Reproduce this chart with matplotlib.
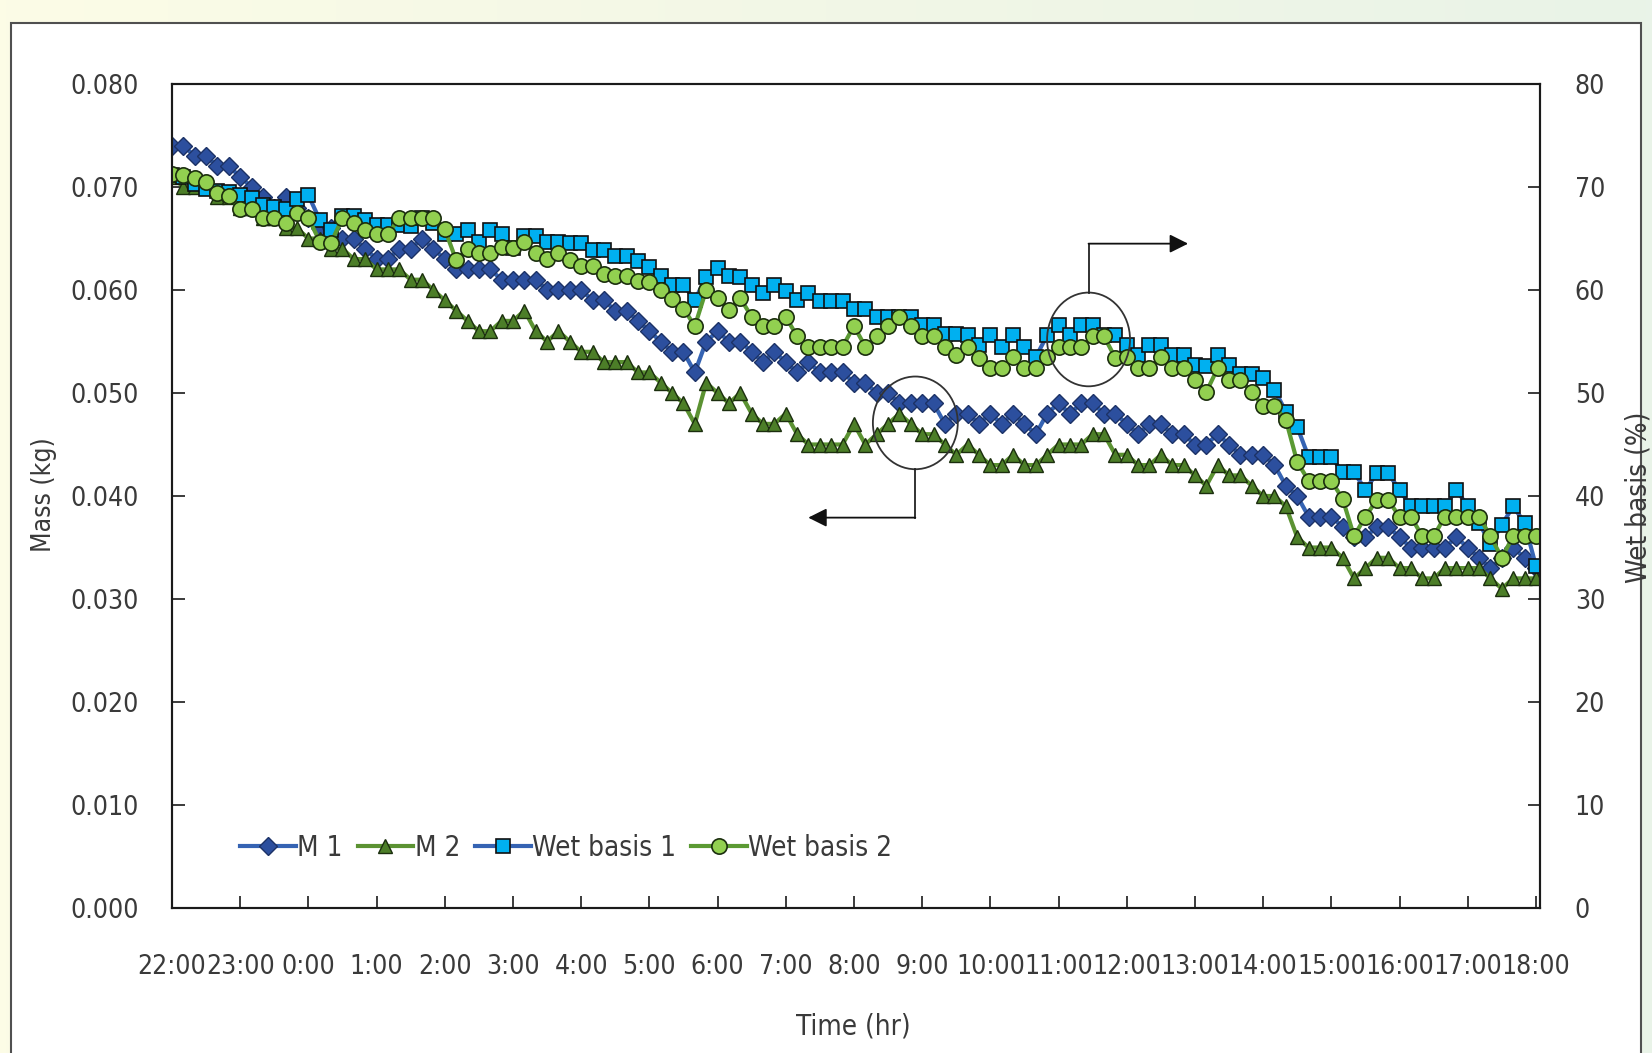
import numpy as np
import matplotlib
matplotlib.use("Agg")
import matplotlib.pyplot as plt
from matplotlib import font_manager
from matplotlib.patches import Ellipse, Rectangle
from matplotlib.colors import LinearSegmentedColormap


hour_labels = ["22:00", "23:00", "0:00", "1:00", "2:00", "3:00", "4:00", "5:00",
               "6:00", "7:00", "8:00", "9:00", "10:00", "11:00", "12:00", "13:00",
               "14:00", "15:00", "16:00", "17:00", "18:00"]

# one reading every 10 minutes from 22:00 to 18:00
elapsed_min = np.arange(0, 1201, 10)

# mass readings in grams
m1_g = [74, 74, 73, 73, 72, 72, 71, 70, 69, 68, 69, 68, 67, 66, 66, 65, 65, 64, 63, 63,
        64, 64, 65, 64, 63, 62, 62, 62, 62, 61, 61, 61, 61, 60, 60, 60, 60, 59, 59, 58,
        58, 57, 56, 55, 54, 54, 52, 55, 56, 55, 55, 54, 53, 54, 53, 52, 53, 52, 52, 52,
        51, 51, 50, 50, 49, 49, 49, 49, 47, 48, 48, 47, 48, 47, 48, 47, 46, 48, 49, 48,
        49, 49, 48, 48, 47, 46, 47, 47, 46, 46, 45, 45, 46, 45, 44, 44, 44, 43, 41, 40,
        38, 38, 38, 37, 36, 36, 37, 37, 36, 35, 35, 35, 35, 36, 35, 34, 33, 34, 35, 34,
        33]
m2_g = [71, 70, 70, 70, 69, 69, 68, 68, 67, 67, 66, 66, 65, 65, 64, 64, 63, 63, 62, 62,
        62, 61, 61, 60, 59, 58, 57, 56, 56, 57, 57, 58, 56, 55, 56, 55, 54, 54, 53, 53,
        53, 52, 52, 51, 50, 49, 47, 51, 50, 49, 50, 48, 47, 47, 48, 46, 45, 45, 45, 45,
        47, 45, 46, 47, 48, 47, 46, 46, 45, 44, 45, 44, 43, 43, 44, 43, 43, 44, 45, 45,
        45, 46, 46, 44, 44, 43, 43, 44, 43, 43, 42, 41, 43, 42, 42, 41, 40, 40, 39, 36,
        35, 35, 35, 34, 32, 33, 34, 34, 33, 33, 32, 32, 33, 33, 33, 33, 32, 31, 32, 32,
        32]
# wet basis moisture (%)
wb1 = [71.2, 71.0, 70.3, 69.8, 69.6, 69.5, 69.2, 68.9, 68.3, 68.1, 67.9, 68.8, 69.2, 66.8,
       65.8, 67.2, 67.2, 66.8, 66.3, 66.3, 66.3, 66.2, 67.0, 66.5, 65.4, 65.4, 65.8, 64.7,
       65.8, 65.4, 64.1, 65.2, 65.2, 64.7, 64.7, 64.6, 64.6, 63.9, 63.9, 63.3, 63.3, 62.8,
       62.2, 61.4, 60.5, 60.5, 59.0, 61.3, 62.1, 61.4, 61.3, 60.5, 59.7, 60.5, 59.9, 59.0,
       59.7, 58.9, 58.9, 58.9, 58.2, 58.2, 57.4, 57.4, 57.4, 57.4, 56.6, 56.6, 55.7, 55.7,
       55.6, 54.7, 55.6, 54.5, 55.6, 54.5, 53.5, 55.6, 56.6, 55.6, 56.6, 56.6, 55.6, 55.6,
       54.7, 53.7, 54.7, 54.7, 53.7, 53.7, 52.7, 52.6, 53.7, 52.7, 51.8, 51.8, 51.5, 50.3,
       48.2, 46.7, 43.8, 43.8, 43.8, 42.3, 42.3, 40.6, 42.2, 42.2, 40.6, 39.0, 39.0, 39.0,
       39.0, 40.6, 39.0, 37.4, 35.3, 37.2, 39.0, 37.4, 33.2]
wb2 = [71.3, 71.2, 70.9, 70.5, 69.4, 69.1, 67.9, 67.9, 67.0, 67.0, 66.5, 67.5, 67.0, 64.7,
       64.6, 67.0, 66.5, 65.8, 65.4, 65.4, 67.0, 67.0, 67.0, 67.0, 65.9, 62.9, 64.0, 63.6,
       63.6, 64.2, 64.1, 64.7, 63.6, 63.0, 63.6, 62.9, 62.3, 62.3, 61.6, 61.4, 61.4, 60.9,
       60.8, 60.0, 59.1, 58.2, 56.5, 60.0, 59.2, 58.1, 59.2, 57.4, 56.5, 56.5, 57.4, 55.5,
       54.5, 54.5, 54.5, 54.5, 56.5, 54.5, 55.5, 56.5, 57.4, 56.5, 55.5, 55.5, 54.5, 53.7,
       54.5, 53.4, 52.4, 52.4, 53.5, 52.4, 52.4, 53.5, 54.5, 54.5, 54.5, 55.5, 55.5, 53.4,
       53.5, 52.4, 52.4, 53.5, 52.4, 52.4, 51.3, 50.1, 52.4, 51.3, 51.3, 50.1, 48.7, 48.7,
       47.4, 43.3, 41.5, 41.5, 41.5, 39.7, 36.1, 38.0, 39.6, 39.6, 38.0, 38.0, 36.1, 36.1,
       38.0, 38.0, 38.0, 38.0, 36.1, 34.0, 36.1, 36.1, 36.1]

hours = elapsed_min / 60
m1 = np.array(m1_g) / 1000
m2 = np.array(m2_g) / 1000

available = {f.name for f in font_manager.fontManager.ttflist}
if "Liberation Sans Narrow" in available:
    plt.rcParams["font.family"] = "Liberation Sans Narrow"
    FS = 23.5
else:
    plt.rcParams["font.family"] = "DejaVu Sans"
    plt.rcParams["font.stretch"] = "condensed"
    FS = 19
TXT = "#3a3a3a"

W, H = 1652, 1053
fig = plt.figure(figsize=(W / 100, H / 100), dpi=100)

# page background + white chart box
bg = fig.add_axes([0, 0, 1, 1], zorder=-10)
bg.axis("off")
cm = LinearSegmentedColormap.from_list("bgc", ["#fcfce6", "#f2f7e6", "#e9f3e8"])
bg.imshow(np.linspace(0, 1, 256)[None, :], aspect="auto", cmap=cm,
          extent=[0, 1, 0, 1], transform=bg.transAxes)
bg.add_patch(Rectangle((11 / W, -0.01), (1641 - 11) / W, 1.01 - 23 / H,
                       transform=bg.transAxes, fc="white", ec="#505050", lw=1.5))
bg.set_xlim(0, 1)
bg.set_ylim(0, 1)

ax = fig.add_axes([172 / W, 1 - 908 / H, (1540 - 172) / W, (908 - 84) / H])
ax.plot(hours, m1, color="#3563b3", lw=3, marker="D", ms=9.5, mfc="#2c4f9e",
        mec="#1c3266", mew=1, label="M 1")
ax.plot(hours, m2, color="#5b9232", lw=3, marker="^", ms=10.5, mfc="#4c7e28",
        mec="#1b2e0e", mew=1, label="M 2")

ax2 = ax.twinx()
ax2.plot(hours, wb1, color="#3563b3", lw=3, marker="s", ms=10.5, mfc="#00b0f0",
         mec="#111111", mew=1.2, label="Wet basis 1")
ax2.plot(hours, wb2, color="#5b9a33", lw=3, marker="o", ms=11, mfc="#92d050",
         mec="#1b2e0e", mew=1.2, label="Wet basis 2")

ax.set_xlim(0, 20.06)
ax.set_ylim(0, 0.08)
ax2.set_ylim(0, 80)
ax.set_xticks(range(len(hour_labels)))
ax.set_xticklabels(hour_labels)
ax.set_yticks(np.arange(0, 0.0801, 0.01))
ax.set_yticklabels([f"{v:.3f}" for v in np.arange(0, 0.0801, 0.01)])
ax2.set_yticks(range(0, 81, 10))

for a in (ax, ax2):
    for s in a.spines.values():
        s.set_color("#1a1a1a")
        s.set_linewidth(1.5)
ax.tick_params(axis="x", direction="in", length=9, width=1.2, pad=33,
               labelsize=FS, labelcolor=TXT, color="#1a1a1a")
ax.tick_params(axis="y", direction="in", length=9, width=1.2, pad=24,
               labelsize=FS, labelcolor=TXT, color="#1a1a1a")
ax2.tick_params(axis="y", direction="in", length=9, width=1.2, pad=25,
                labelsize=FS, labelcolor=TXT, color="#1a1a1a")

# call-outs: circle + elbow arrow pointing to each axis
ax2.add_patch(Ellipse((10.9, 47.1), 1.245, 9.0, fill=False, ec="#333333", lw=1.3, zorder=5))
ax2.plot([10.9, 10.9], [42.6, 37.9], color="#222222", lw=1.3, zorder=5)
ax2.annotate("", xy=(9.33, 37.9), xytext=(10.9, 37.9), zorder=5,
             arrowprops=dict(arrowstyle="-|>", color="#111111", lw=1.3,
                             mutation_scale=28, shrinkA=0, shrinkB=0))
ax2.add_patch(Ellipse((13.44, 55.2), 1.216, 9.1, fill=False, ec="#333333", lw=1.3, zorder=5))
ax2.plot([13.44, 13.44], [59.75, 64.5], color="#222222", lw=1.3, zorder=5)
ax2.annotate("", xy=(14.9, 64.5), xytext=(13.44, 64.5), zorder=5,
             arrowprops=dict(arrowstyle="-|>", color="#111111", lw=1.3,
                             mutation_scale=28, shrinkA=0, shrinkB=0))

h1, l1 = ax.get_legend_handles_labels()
h2, l2 = ax2.get_legend_handles_labels()
leg = ax2.legend(h1 + h2, l1 + l2, loc="center left", ncol=4, frameon=False,
                 bbox_to_anchor=(240 / W, 1 - 848 / H), bbox_transform=fig.transFigure,
                 fontsize=FS + 1, handlelength=2.0, handletextpad=0.05, columnspacing=0.55,
                 borderpad=0, borderaxespad=0)
for t in leg.get_texts():
    t.set_color(TXT)

fig.text(44 / W, 1 - 495 / H, "Mass (kg)", rotation=90, ha="center", va="center",
         fontsize=FS, color=TXT)
fig.text(1638 / W, 1 - 497 / H, "Wet basis (%)", rotation=90, ha="center", va="center",
         fontsize=FS + 1, color=TXT)
fig.text(853 / W, 1 - 1027 / H, "Time (hr)", ha="center", va="center",
         fontsize=FS + 1, color=TXT)

fig.savefig("out.png", dpi=100)
